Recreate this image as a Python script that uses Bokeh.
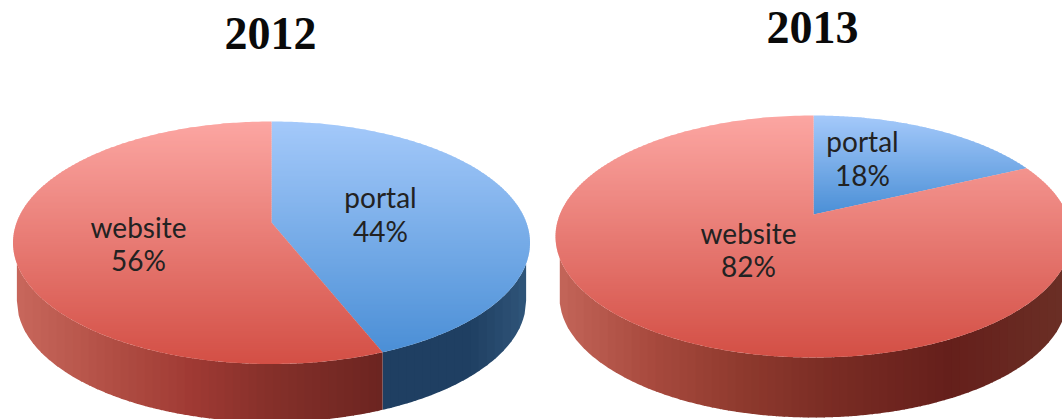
import numpy as np
from bokeh.core.properties import value
from bokeh.embed import file_html
from bokeh.models import Range1d
from bokeh.plotting import figure
from bokeh.resources import INLINE

years = ["2012", "2013"]
categories = ["portal", "website"]
shares_2012 = [44, 56]
shares_2013 = [18, 82]

# layout of each drawn pie: pivot x, pivot y, back rim y, front rim y, half width, wall depth
LAYOUT = [
    dict(px=271, py=222, top=121, front=363.5, rx=258.5, depth=58, title=(270, 33),
         labels=[(380, 196, 230), (138, 226, 259)],
         stops=[[(390, "#1f3f62"), (470, "#1f3f62"), (528, "#30567a")],
                [(15, "#c8675c"), (130, "#ad4a40"), (190, "#a03a34"), (270, "#85302a"), (387, "#6b2420")]]),
    dict(px=813, py=214, top=115, front=357, rx=258, depth=60, title=(812, 27),
         labels=[(862, 140, 174), (748, 232, 265)],
         stops=[[(813, "#1f3f62"), (1062, "#1f3f62")],
                [(555, "#c4665a"), (650, "#a84a3e"), (740, "#8f3a2e"), (830, "#7a2c24"),
                 (950, "#651f1b"), (1071, "#6b3026")]]),
]
TOP_COLORS = [("#a4c9fa", "#4b8fd6"), ("#fca6a2", "#d34f45")]


def rgb(h):
    return np.array([int(h[i:i + 2], 16) for i in (1, 3, 5)], float)


def to_hex(c):
    return "#%02x%02x%02x" % tuple(int(round(v)) for v in c)


def projector(g):
    up, down = g["py"] - g["top"], g["front"] - g["py"]
    k = (down - up) / (down + up)
    a = down * (1 - k)
    b = g["rx"] * np.sqrt(1 - k * k)

    def project(theta, r=1.0):
        u, v = r * np.sin(theta), -r * np.cos(theta)
        d = 1 - k * v
        return g["px"] + b * u / d, g["py"] + a * v / d
    return project


def clip(poly, c, keep_below):
    out = []
    n = len(poly)
    for i in range(n):
        p, q = poly[i], poly[(i + 1) % n]
        pin = p[1] >= c if keep_below else p[1] <= c
        qin = q[1] >= c if keep_below else q[1] <= c
        if pin:
            out.append(p)
        if pin != qin:
            t = (c - p[1]) / (q[1] - p[1])
            out.append((p[0] + t * (q[0] - p[0]), c))
    return out


p = figure(width=1062, height=419, x_range=Range1d(0, 1062), y_range=Range1d(419, 0),
           output_backend="svg", toolbar_location=None, min_border=0)
p.axis.visible = False
p.grid.visible = False
p.outline_line_color = None
p.background_fill_color = "white"

xs, ys, cs = [], [], []


def add(x, y, c):
    xs.append(list(x))
    ys.append(list(y))
    cs.append(c)


for g, shares in zip(LAYOUT, [shares_2012, shares_2013]):
    project = projector(g)
    cy, ry = (g["top"] + g["front"]) / 2, (g["front"] - g["top"]) / 2
    edges = np.cumsum([0] + shares) / sum(shares) * 2 * np.pi

    # walls
    inner = g["rx"] * 0.985
    for i in range(len(shares)):
        a0, a1 = edges[i], edges[i + 1]
        if a0 >= np.pi * 1.5 or a1 <= np.pi * 0.5:
            continue
        x_a, _ = project(max(a0, np.pi * 0.5))
        x_b, _ = project(min(a1, np.pi * 1.5))
        lo, hi = min(x_a, x_b), max(x_a, x_b)
        lo, hi = max(lo, g["px"] - inner), min(hi, g["px"] + inner)
        sx = [s[0] for s in g["stops"][i]]
        sc = np.array([rgb(s[1]) for s in g["stops"][i]])
        step = 8
        for x0 in np.arange(lo, hi, step):
            x1 = min(x0 + step + 1.0, hi)
            grid = np.linspace(x0, x1, 6)
            t = ry * np.sqrt(np.clip(1 - ((grid - g["px"]) / g["rx"]) ** 2, 0, 1)) + cy
            b = ry * np.sqrt(np.clip(1 - ((grid - g["px"]) / inner) ** 2, 0, 1)) + cy + g["depth"]
            col = [np.interp(x0 + step / 2, sx, sc[:, j]) for j in range(3)]
            add(np.r_[grid, grid[::-1]], np.r_[t, b[::-1]], to_hex(col))

    # top faces, shaded by rows between each slice's own top and bottom
    for i in range(len(shares)):
        th = np.linspace(edges[i], edges[i + 1], 240)
        rim = [project(a) for a in th]
        poly = rim + [(g["px"], g["py"])]
        y_min, y_max = min(q[1] for q in poly), max(q[1] for q in poly)
        c0, c1 = rgb(TOP_COLORS[i][0]), rgb(TOP_COLORS[i][1])
        step = 2.0
        for y0 in np.arange(y_min, y_max, step):
            band = clip(clip(poly, y0, True), y0 + step + 0.7, False)
            if len(band) < 3:
                continue
            f = (y0 + step / 2 - y_min) / (y_max - y_min)
            add([q[0] for q in band], [q[1] for q in band], to_hex(c0 + (c1 - c0) * f))

p.patches(xs, ys, fill_color=cs, line_color=None)

for g, year, shares in zip(LAYOUT, years, [shares_2012, shares_2013]):
    p.text([g["title"][0]], [g["title"][1]], text=[year], text_font=value("Liberation Serif"),
           text_font_style="bold", text_font_size="46px", text_color="#0a0a0a",
           text_align="center", text_baseline="middle")
    for (lx, y1, y2), cat, s in zip(g["labels"], categories, shares):
        for yy, txt in ((y1, cat), (y2, f"{s}%")):
            p.text([lx], [yy], text=[txt], text_font=value("Lato"), text_font_size="28px",
                   text_color="#222222", text_align="center", text_baseline="middle")

open("out.html", "w").write(file_html(p, INLINE))
